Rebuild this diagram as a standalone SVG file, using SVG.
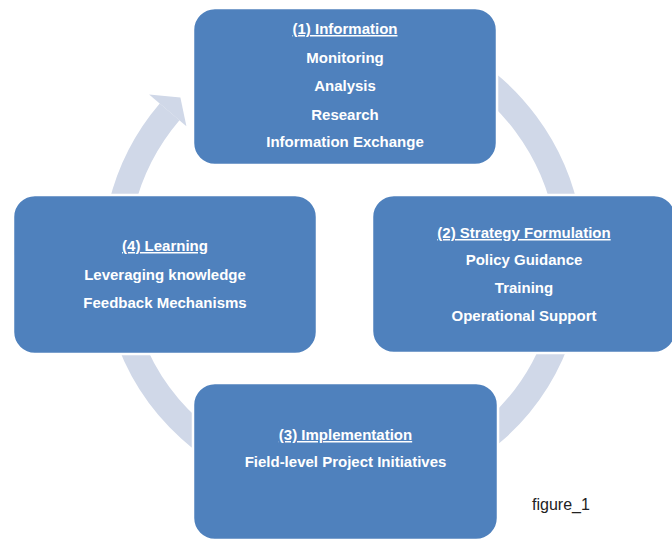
<svg xmlns="http://www.w3.org/2000/svg" width="672" height="539" viewBox="0 0 672 539">
<style>
.box{fill:#4F81BD;stroke:#FFFFFF;stroke-width:2.5}
.t{font-family:"Liberation Sans",Arial,sans-serif;font-size:15px;font-weight:bold;fill:#FFFFFF;text-anchor:middle}
.h{text-decoration:underline}
.ring{fill:none;stroke:#D0D8E8;stroke-width:26}
</style>
<rect width="672" height="539" fill="#FFFFFF"/>
<g id="connectors">
<path class="ring" d="M212.2,73.2 A228,228 0 1 1 169.6,111.9"/>
<polygon points="149.1,94.4 180.4,97.4 186.4,126.2" fill="#D0D8E8"/>
</g>
<g id="node1">
<rect class="box" x="193" y="8" width="304" height="157" rx="22"/>
<text class="t h" x="345" y="34">(1) Information</text>
<text class="t" x="345" y="63">Monitoring</text>
<text class="t" x="345" y="91">Analysis</text>
<text class="t" x="345" y="119.5">Research</text>
<text class="t" x="345" y="147">Information Exchange</text>
</g>
<g id="node2">
<rect class="box" x="372" y="195" width="304" height="158" rx="22"/>
<text class="t h" x="524" y="238">(2) Strategy Formulation</text>
<text class="t" x="524" y="265">Policy Guidance</text>
<text class="t" x="524" y="293">Training</text>
<text class="t" x="524" y="321">Operational Support</text>
</g>
<g id="node3">
<rect class="box" x="193" y="383" width="305" height="157" rx="22"/>
<text class="t h" x="345.5" y="440">(3) Implementation</text>
<text class="t" x="345.5" y="467">Field-level Project Initiatives</text>
</g>
<g id="node4">
<rect class="box" x="13" y="195" width="304" height="159" rx="22"/>
<text class="t h" x="165" y="251">(4) Learning</text>
<text class="t" x="165" y="280">Leveraging knowledge</text>
<text class="t" x="165" y="308">Feedback Mechanisms</text>
</g>
<text x="532" y="510" font-family="'Liberation Sans',Arial,sans-serif" font-size="16" fill="#222222">figure_1</text>
</svg>
